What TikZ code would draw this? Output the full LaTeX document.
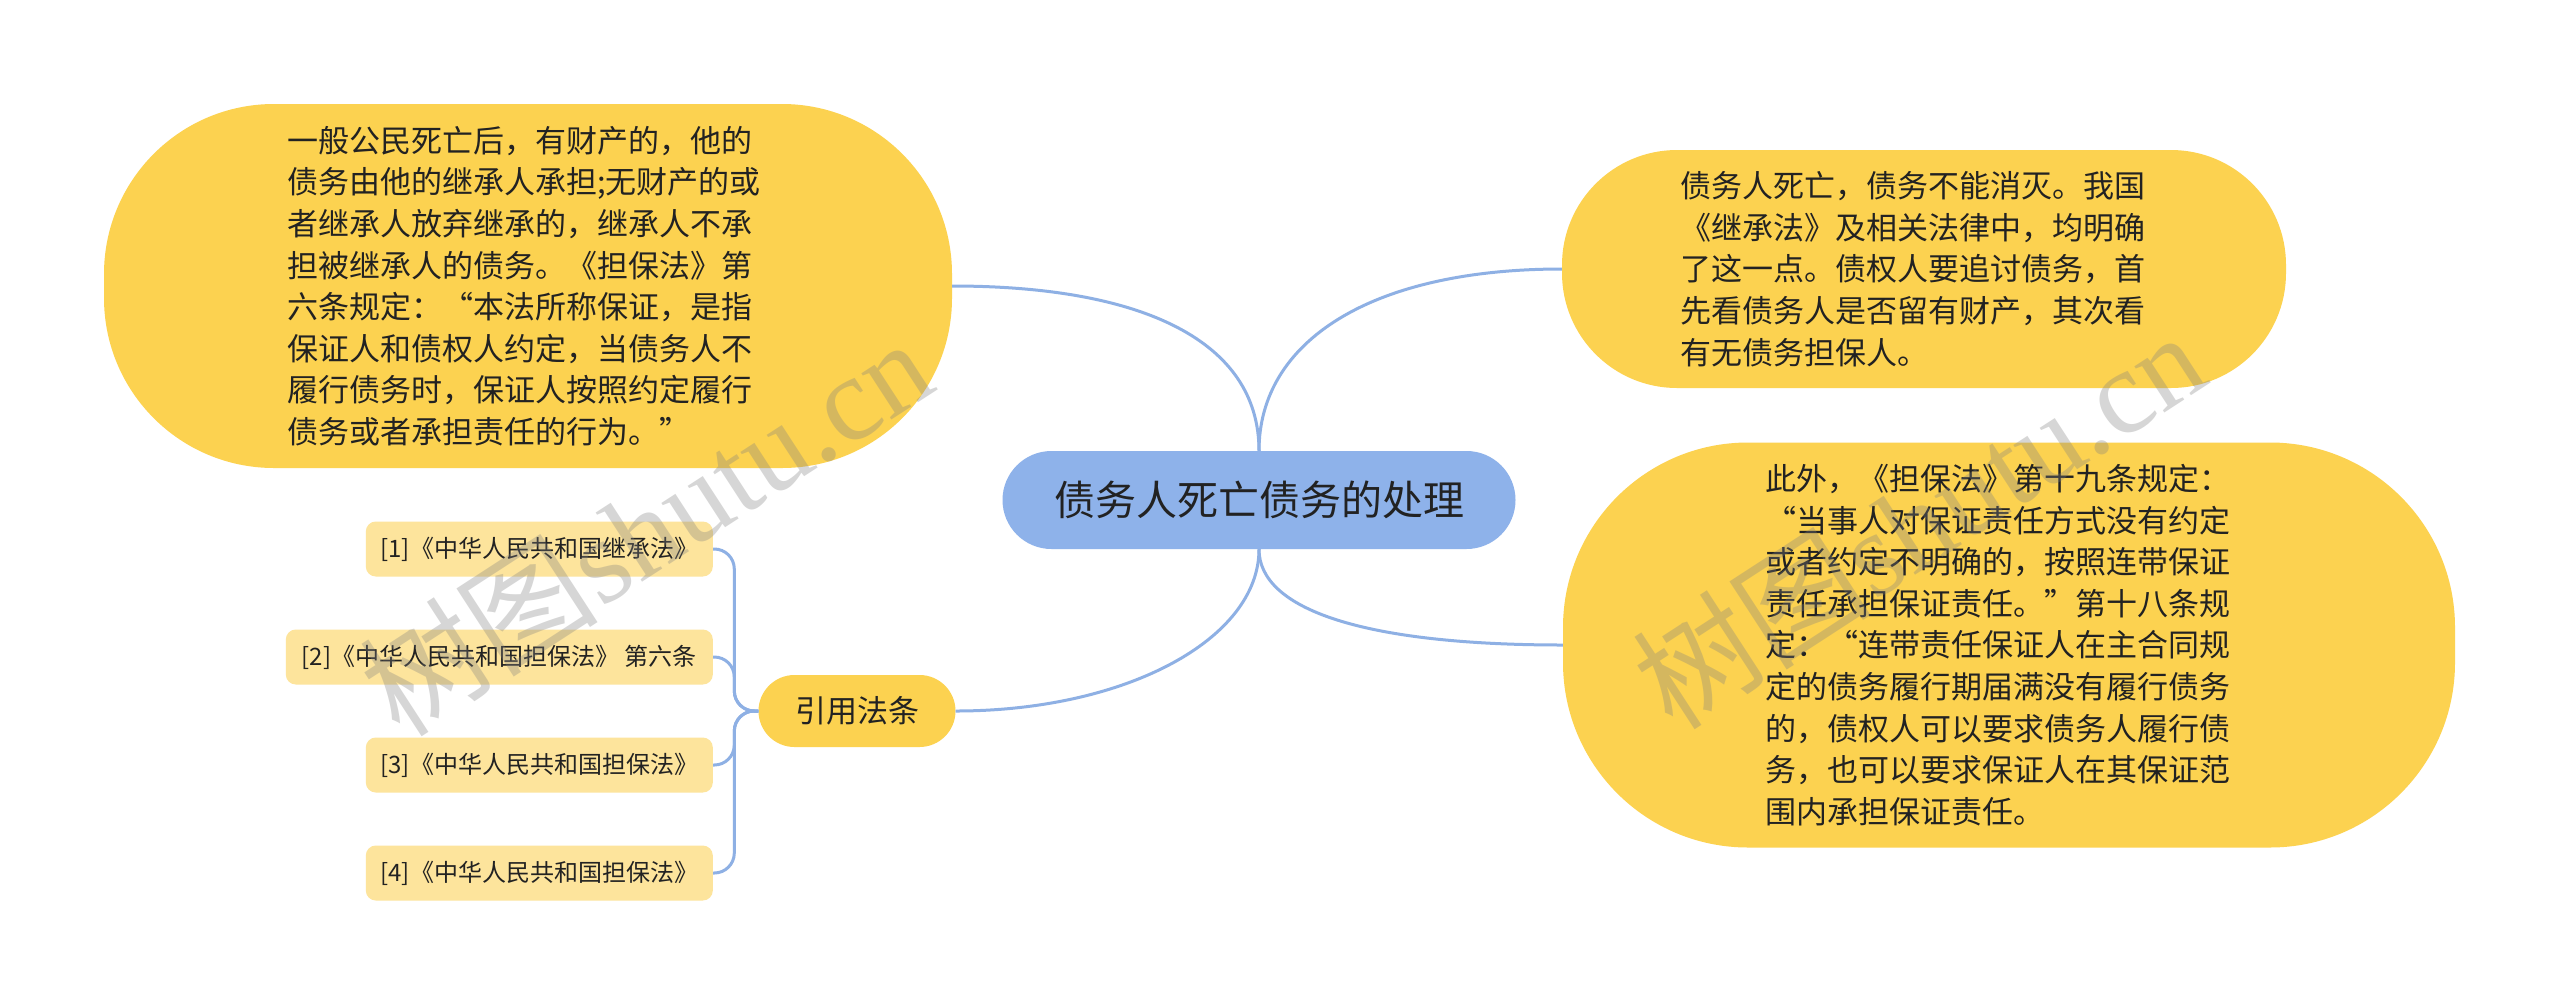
\documentclass[tikz,border=0pt]{standalone}
\usepackage{fontspec}
\setmainfont{Noto Sans CJK SC}
\newfontfamily\wmlatin{Liberation Serif}
\newfontfamily\wmcjk{Noto Sans CJK SC}
\definecolor{ylw}{HTML}{FCD250}
\definecolor{lyl}{HTML}{FDE49C}
\definecolor{blu}{HTML}{8EB2EA}
\definecolor{lnk}{HTML}{8EB0E4}
\definecolor{txt}{HTML}{222222}
\newcommand\fwopen{\makebox[1em][r]{“}}
\newcommand\fwclose{\makebox[1em][l]{”}}
\begin{document}
\begin{tikzpicture}[x=1pt,y=-1pt,
  every node/.style={text=txt, inner sep=0pt},
  bigbox/.style={fill=ylw, align=left, font=\fontsize{31}{41.6}\selectfont},
  leafbox/.style={fill=lyl, rounded corners=10pt, minimum height=55pt, anchor=east, font=\fontsize{24}{28}\selectfont},
  conn/.style={draw=lnk, line width=3pt},
  wmark/.style={text=gray, opacity=0.32, rotate=33, font=\fontsize{120}{120}\selectfont}]
\fill[white] (0,0) rectangle (2560,1005);
\useasboundingbox (0,0) rectangle (2560,1005);

% center
\node[fill=blu, rounded corners=49pt, minimum width=513pt, minimum height=98pt,
      font=\fontsize{41}{48}\selectfont] (c) at (1259,500) {债务人死亡债务的处理};

% left big node
\node[bigbox, rounded corners=170pt, minimum width=848pt, minimum height=364pt, text width=482pt] (tl) at (528,286) {%
一般公民死亡后，有财产的，他的\\
债务由他的继承人承担;无财产的或\\
者继承人放弃继承的，继承人不承\\
担被继承人的债务。《担保法》第\\
六条规定：\fwopen 本法所称保证，是指\\
保证人和债权人约定，当债务人不\\
履行债务时，保证人按照约定履行\\
债务或者承担责任的行为。\fwclose};

% right top
\node[bigbox, rounded corners=115pt, minimum width=724pt, minimum height=238pt, text width=488pt] (tr) at (1924,269) {%
债务人死亡，债务不能消灭。我国\\
《继承法》及相关法律中，均明确\\
了这一点。债权人要追讨债务，首\\
先看债务人是否留有财产，其次看\\
有无债务担保人。};

% right bottom
\node[bigbox, rounded corners=185pt, minimum width=892pt, minimum height=405pt, text width=488pt] (br) at (2009,645) {%
此外，《担保法》第十九条规定：\\
\fwopen 当事人对保证责任方式没有约定\\
或者约定不明确的，按照连带保证\\
责任承担保证责任。\fwclose 第十八条规\\
定：\fwopen 连带责任保证人在主合同规\\
定的债务履行期届满没有履行债务\\
的，债权人可以要求债务人履行债\\
务，也可以要求保证人在其保证范\\
围内承担保证责任。};

% citation hub
\node[fill=ylw, rounded corners=36pt, minimum width=197pt, minimum height=72pt,
      font=\fontsize{31}{36}\selectfont] (q) at (857,711) {引用法条};

% leaves
\node[leafbox, minimum width=347pt] (l1) at (713,549) {[1]《中华人民共和国继承法》};
\node[leafbox, minimum width=427pt] (l2) at (713,657) {[2]《中华人民共和国担保法》 第六条};
\node[leafbox, minimum width=347pt] (l3) at (713,765) {[3]《中华人民共和国担保法》};
\node[leafbox, minimum width=347pt] (l4) at (713,873) {[4]《中华人民共和国担保法》};

% connectors
\draw[conn] (c.north) .. controls +(0,-110) and +(190,0) .. (tl.east);
\draw[conn] (c.north) .. controls +(0,-110) and +(-190,0) .. (tr.west);
\draw[conn] (c.south) .. controls +(0,90) and +(170,0) .. (q.east);
\draw[conn] (c.south) .. controls +(0,60) and +(-200,0) .. (br.west);

\draw[conn, rounded corners=20pt] (q.west) -- ++(-24,0) |- (l1.east);
\draw[conn, rounded corners=20pt] (q.west) -- ++(-24,0) |- (l2.east);
\draw[conn, rounded corners=20pt] (q.west) -- ++(-24,0) |- (l3.east);
\draw[conn, rounded corners=20pt] (q.west) -- ++(-24,0) |- (l4.east);

% watermarks
\node[wmark] (w1) at (645,526) {{\wmcjk 树图}{\wmlatin shutu.cn}};
\node[wmark] (w2) at (1918,519) {{\wmcjk 树图}{\wmlatin shutu.cn}};
\end{tikzpicture}
\end{document}
